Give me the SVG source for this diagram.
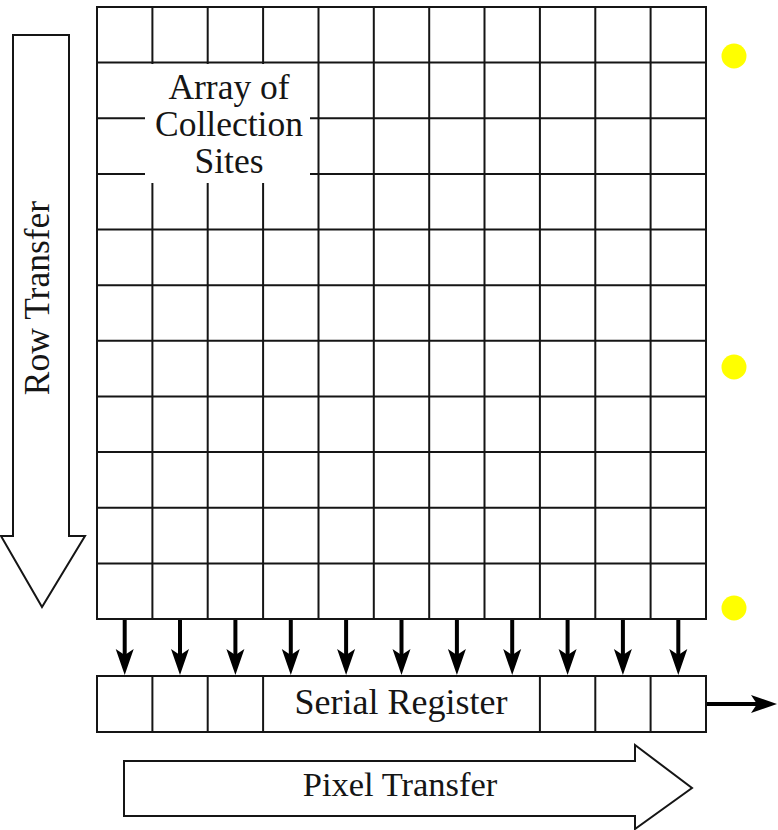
<svg xmlns="http://www.w3.org/2000/svg" width="778" height="830" viewBox="0 0 778 830">
  <defs>
    <style>
      .ln { stroke: #151515; stroke-width: 2; fill: none; }
      .box { stroke: #151515; stroke-width: 2; fill: #ffffff; }
      .big { stroke: #151515; stroke-width: 2; fill: #ffffff; stroke-linejoin: miter; }
      .lbl { font-family: "Liberation Serif", "Times New Roman", serif; fill: #151515; text-anchor: middle; }
      .arr { stroke: #000000; stroke-width: 4; fill: none; }
      .dot { fill: #ffff00; }
    </style>
    <marker id="ah" markerUnits="userSpaceOnUse" markerWidth="32" markerHeight="22" viewBox="-28 -11 32 22" refX="-15" refY="0" orient="auto">
      <path d="M0,0 L-26,-9 L-20,0 L-26,9 Z" fill="#000000"/>
    </marker>
  </defs>

  <g id="row-transfer">
    <polygon class="big" points="13,35 69,35 69,536 85,536 42,607 1,536 13,536"/>
    <text class="lbl" font-size="35.5" transform="translate(49,298) rotate(-90)">Row Transfer</text>
  </g>

  <g id="array">
    <rect class="box" x="97" y="7" width="609" height="612"/>
    <g class="ln">
      <line x1="152.4" y1="7" x2="152.4" y2="619"/>
      <line x1="207.7" y1="7" x2="207.7" y2="619"/>
      <line x1="263.1" y1="7" x2="263.1" y2="619"/>
      <line x1="318.5" y1="7" x2="318.5" y2="619"/>
      <line x1="373.8" y1="7" x2="373.8" y2="619"/>
      <line x1="429.2" y1="7" x2="429.2" y2="619"/>
      <line x1="484.5" y1="7" x2="484.5" y2="619"/>
      <line x1="539.9" y1="7" x2="539.9" y2="619"/>
      <line x1="595.3" y1="7" x2="595.3" y2="619"/>
      <line x1="650.6" y1="7" x2="650.6" y2="619"/>
      <line x1="97" y1="62.6" x2="706" y2="62.6"/>
      <line x1="97" y1="118.3" x2="706" y2="118.3"/>
      <line x1="97" y1="173.9" x2="706" y2="173.9"/>
      <line x1="97" y1="229.5" x2="706" y2="229.5"/>
      <line x1="97" y1="285.2" x2="706" y2="285.2"/>
      <line x1="97" y1="340.8" x2="706" y2="340.8"/>
      <line x1="97" y1="396.5" x2="706" y2="396.5"/>
      <line x1="97" y1="452.1" x2="706" y2="452.1"/>
      <line x1="97" y1="507.7" x2="706" y2="507.7"/>
      <line x1="97" y1="563.4" x2="706" y2="563.4"/>
    </g>
    <rect x="145" y="64" width="165" height="119" fill="#ffffff"/>
    <text class="lbl" font-size="35.5" x="229" y="99">Array of</text>
    <text class="lbl" font-size="35.5" x="229" y="136">Collection</text>
    <text class="lbl" font-size="35.5" x="229" y="173">Sites</text>
  </g>

  <g id="serial-register">
    <rect class="box" x="97" y="676" width="609" height="56"/>
    <g class="ln">
      <line x1="152.4" y1="676" x2="152.4" y2="732"/>
      <line x1="207.7" y1="676" x2="207.7" y2="732"/>
      <line x1="263.1" y1="676" x2="263.1" y2="732"/>
      <line x1="539.9" y1="676" x2="539.9" y2="732"/>
      <line x1="595.3" y1="676" x2="595.3" y2="732"/>
      <line x1="650.6" y1="676" x2="650.6" y2="732"/>
    </g>
    <text class="lbl" font-size="36" x="401" y="714">Serial Register</text>
  </g>

  <g id="pixel-transfer">
    <polygon class="big" points="124,761 635,761 635,745 692,788 635,829 635,816 124,816"/>
    <text class="lbl" font-size="34.5" x="400" y="796">Pixel Transfer</text>
  </g>

  <g id="dots">
    <circle class="dot" cx="734" cy="56" r="12.5"/>
    <circle class="dot" cx="734" cy="367" r="12.5"/>
    <circle class="dot" cx="734" cy="608" r="12.5"/>
  </g>

  <g id="connectors">
    <line class="arr" x1="124.7" y1="620" x2="124.7" y2="660" marker-end="url(#ah)"/>
    <line class="arr" x1="180" y1="620" x2="180" y2="660" marker-end="url(#ah)"/>
    <line class="arr" x1="235.4" y1="620" x2="235.4" y2="660" marker-end="url(#ah)"/>
    <line class="arr" x1="290.8" y1="620" x2="290.8" y2="660" marker-end="url(#ah)"/>
    <line class="arr" x1="346.1" y1="620" x2="346.1" y2="660" marker-end="url(#ah)"/>
    <line class="arr" x1="401.5" y1="620" x2="401.5" y2="660" marker-end="url(#ah)"/>
    <line class="arr" x1="456.9" y1="620" x2="456.9" y2="660" marker-end="url(#ah)"/>
    <line class="arr" x1="512.2" y1="620" x2="512.2" y2="660" marker-end="url(#ah)"/>
    <line class="arr" x1="567.6" y1="620" x2="567.6" y2="660" marker-end="url(#ah)"/>
    <line class="arr" x1="622.9" y1="620" x2="622.9" y2="660" marker-end="url(#ah)"/>
    <line class="arr" x1="678.3" y1="620" x2="678.3" y2="660" marker-end="url(#ah)"/>
    <line class="arr" x1="707" y1="704" x2="762" y2="704" marker-end="url(#ah)"/>
  </g>
</svg>
